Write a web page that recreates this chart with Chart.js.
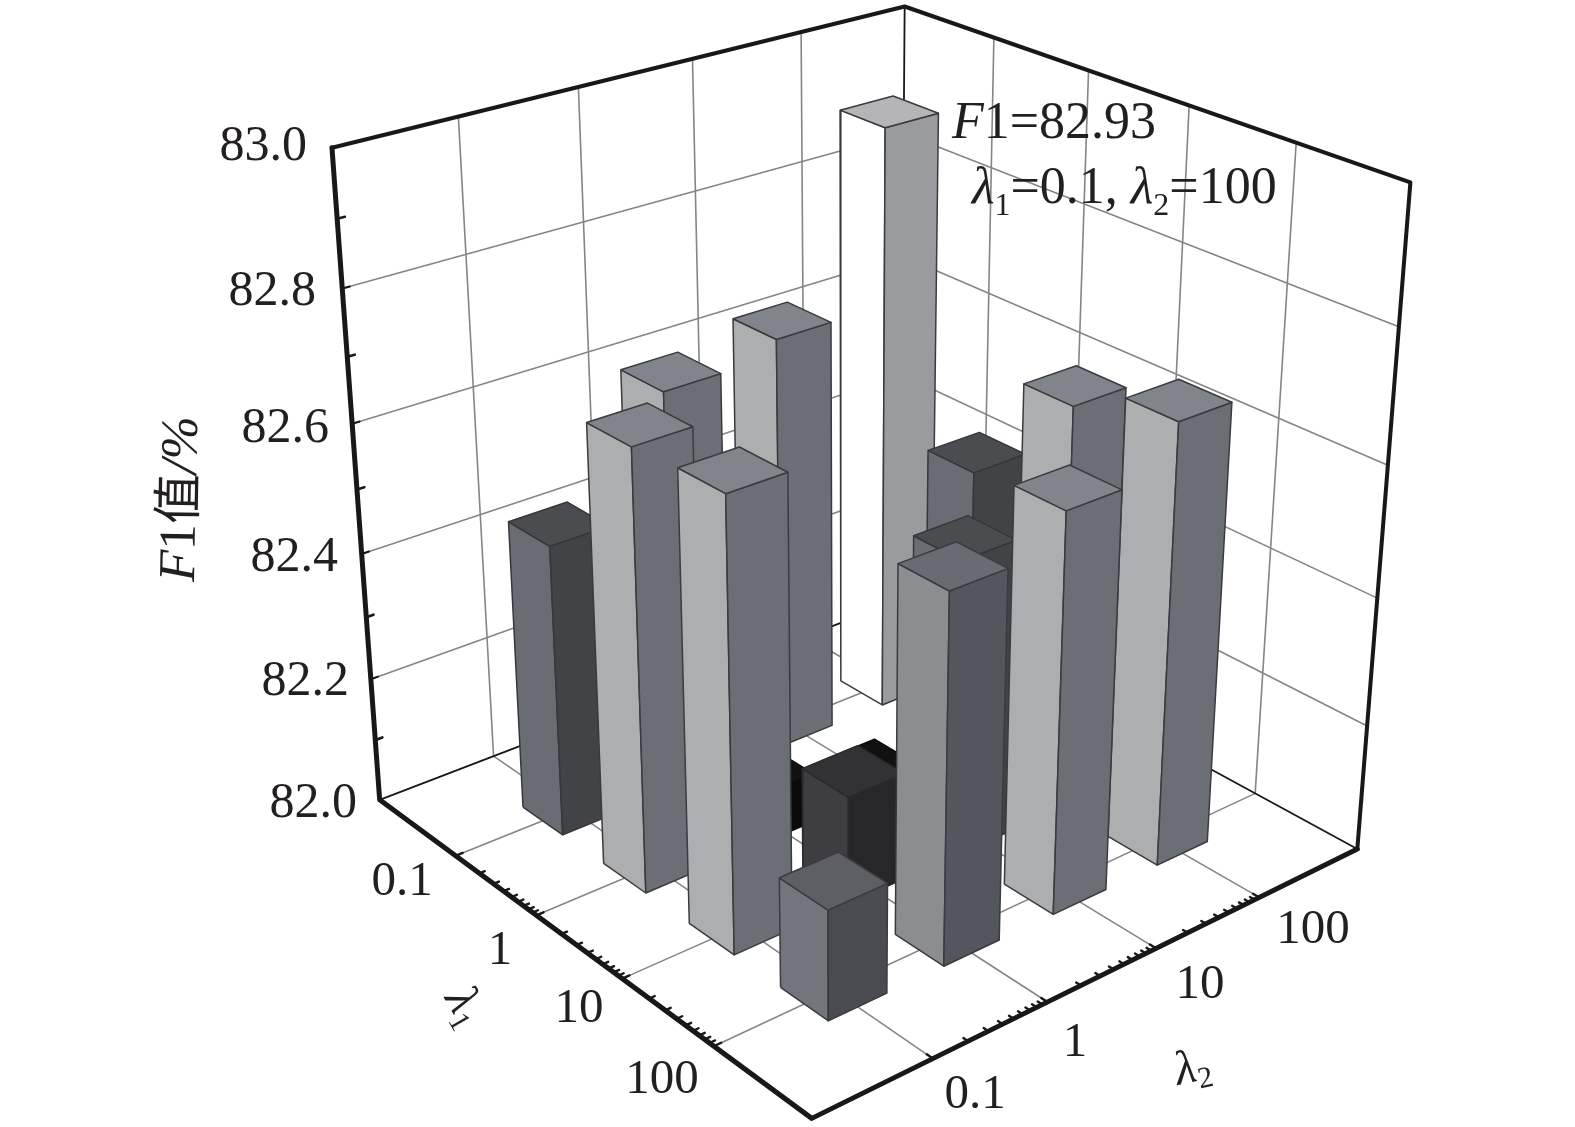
<!DOCTYPE html>
<html>
<head>
<meta charset="utf-8">
<title>F1</title>
<script src="https://cdn.jsdelivr.net/npm/chart.js@4/dist/chart.umd.js"></script>
<style>
    html, body { margin: 0; padding: 0; background: #fff; }
    canvas { display: block; }
</style>
</head>
<body>
<canvas id="chart" width="1575" height="1127"></canvas>
<script>
// Categories and tick labels
const lambda1Labels = ['0.1', '1', '10', '100'];
const lambda2Labels = ['0.1', '1', '10', '100'];
const f1TickLabels = ['82.0', '82.2', '82.4', '82.6', '82.8', '83.0'];

// F1 values, one list per lambda1, in lambda2 order
const f1AtLambda1_01 = [82.46, 82.635, 82.66, 82.93];
const f1AtLambda1_1 = [82.68, 82.08, 82.02, 82.465];
const f1AtLambda1_10 = [82.686, 82.17, 82.465, 82.637];
const f1AtLambda1_100 = [82.17, 82.563, 82.614, 82.683];
const f1Rows = [f1AtLambda1_01, f1AtLambda1_1, f1AtLambda1_10, f1AtLambda1_100];

// Bar shading: [left face, right face, top, edge]
const tones = {
    white: ['#ffffff', '#9a9b9f', '#b5b5b7', '#3a3b3f'],
    light: ['#adaeb0', '#6b6e75', '#81848a', '#3a3b3f'],
    mid: ['#8c8d91', '#53565c', '#686b71', '#3a3b3f'],
    slate: ['#72757c', '#4a4b50', '#5d5f65', '#3a3b3f'],
    deep: ['#696c72', '#424347', '#4b4c50', '#36373a'],
    dark: ['#3e3e42', '#272729', '#323234', '#2a2a2c'],
    black: ['#0d0d0d', '#0a0a0a', '#111111', '#0d0d0d']
};
const barTones = [
    ['deep', 'light', 'light', 'white'],
    ['light', 'black', 'black', 'deep'],
    ['light', 'dark', 'deep', 'light'],
    ['slate', 'mid', 'light', 'light']
];

const F1_MIN = 82;
const F1_MAX = 83;
const BAR_HALF = 0.05;
const TEXT_COLOR = '#231f20';
const SERIF = '"Liberation Serif", "Noto Sans CJK SC", serif';

// The box of the plot as seen in the picture: [u, v, h, px, py]
// u runs along lambda1, v along lambda2, h along F1
const boxFit = [
    [0, 0, 0, 377.5, 800], [1, 0, 0, 811.5, 1119], [1, 1, 0, 1357, 848], [0, 1, 0, 901, 601],
    [0, 0, 1, 331, 147.5], [0, 1, 1, 903.5, 6], [1, 1, 1, 1411, 183],
    [0, 0, 0.2, 371.7, 678], [0, 0, 0.4, 362.7, 554], [0, 0, 0.6, 353.3, 424], [0, 0, 0.8, 342.7, 289]
];

// Least squares fit of the camera matrix
function fitCamera(samples) {
    const n = 11;
    const A = Array.from({ length: n }, () => new Array(n + 1).fill(0));
    samples.forEach(([u, v, h, px, py]) => {
        const x = px / 1000, y = py / 1000;
        const rows = [
            [[u, v, h, 1, 0, 0, 0, 0, -x * u, -x * v, -x * h], x],
            [[0, 0, 0, 0, u, v, h, 1, -y * u, -y * v, -y * h], y]
        ];
        rows.forEach(([r, b]) => {
            for (let i = 0; i < n; i++) {
                for (let j = 0; j < n; j++) A[i][j] += r[i] * r[j];
                A[i][n] += r[i] * b;
            }
        });
    });
    for (let c = 0; c < n; c++) {
        let p = c;
        for (let r = c + 1; r < n; r++) if (Math.abs(A[r][c]) > Math.abs(A[p][c])) p = r;
        [A[c], A[p]] = [A[p], A[c]];
        for (let r = 0; r < n; r++) {
            if (r === c) continue;
            const f = A[r][c] / A[c][c];
            for (let k = c; k <= n; k++) A[r][k] -= f * A[c][k];
        }
    }
    return A.map((row, i) => row[n] / row[i]);
}

const cam = fitCamera(boxFit);

function project(u, v, h) {
    const w = cam[8] * u + cam[9] * v + cam[10] * h + 1;
    return {
        x: 1000 * (cam[0] * u + cam[1] * v + cam[2] * h + cam[3]) / w,
        y: 1000 * (cam[4] * u + cam[5] * v + cam[6] * h + cam[7]) / w
    };
}

const toH = value => (value - F1_MIN) / (F1_MAX - F1_MIN);

// Datasets are collected back to front, Chart.js paints the first dataset last
const layers = [];

function addLine(points, color, width) {
    layers.push({
        data: points.map(p => project(p[0], p[1], p[2])),
        showLine: true,
        fill: false,
        borderColor: color,
        borderWidth: width,
        pointRadius: 0,
        tension: 0,
        borderCapStyle: 'round',
        borderJoinStyle: 'round',
        clip: false
    });
}

function addFace(points, color, edge) {
    const closed = points.concat([points[0]]);
    layers.push({
        data: closed.map(p => project(p[0], p[1], p[2])),
        showLine: true,
        fill: 'shape',
        backgroundColor: color,
        borderColor: edge,
        borderWidth: 1.5,
        pointRadius: 0,
        tension: 0,
        borderJoinStyle: 'round',
        clip: false
    });
}

function addGrid() {
    const gridColor = '#858585';
    const stops = [0.2, 0.4, 0.6, 0.8];
    stops.forEach(s => {
        // floor
        addLine([[s, 0, 0], [s, 1, 0]], gridColor, 1.6);
        addLine([[0, s, 0], [1, s, 0]], gridColor, 1.6);
        // walls, verticals
        addLine([[0, s, 0], [0, s, 1]], gridColor, 1.6);
        addLine([[s, 1, 0], [s, 1, 1]], gridColor, 1.6);
        // walls, horizontals
        addLine([[0, 0, s], [0, 1, s], [1, 1, s]], gridColor, 1.6);
    });
}

function addFrame() {
    const ink = '#1a1718';
    addLine([[0, 1, 0], [0, 1, 1]], ink, 1.8);
    addLine([[0, 0, 0], [0, 1, 0], [1, 1, 0]], ink, 1.8);
    addLine([[0, 0, 1], [0, 1, 1], [1, 1, 1], [1, 1, 0]], ink, 4);
    addLine([[0, 0, 1], [0, 0, 0], [1, 0, 0], [1, 1, 0]], ink, 5);

    // log ticks on the two floor axes, one decade per cell
    const minors = [2, 3, 4, 5, 6, 7, 8, 9].map(k => Math.log10(k) * 0.2);
    [0.2, 0.4, 0.6].forEach(base => {
        minors.forEach(m => {
            addLine([[base + m, 0, 0], [base + m, 0.009, 0]], ink, 2.4);
            addLine([[1, base + m, 0], [0.991, base + m, 0]], ink, 2.4);
        });
    });
    [0.2, 0.4, 0.6, 0.8].forEach(s => {
        addLine([[s, 0, 0], [s, 0.012, 0]], ink, 2.4);
        addLine([[1, s, 0], [0.988, s, 0]], ink, 2.4);
    });
    // F1 axis ticks
    [0.1, 0.3, 0.5, 0.7, 0.9].forEach(h => addLine([[0, 0, h], [0, 0.012, h]], ink, 2.6));
    [0.2, 0.4, 0.6, 0.8].forEach(h => addLine([[0, 0, h], [0, 0.012, h]], ink, 2));
}

function addBars() {
    for (let i = 0; i < 4; i++) {
        for (let j = 3; j >= 0; j--) {
            const u = (i + 1) * 0.2, v = (j + 1) * 0.2;
            const h = toH(f1Rows[i][j]);
            const tone = tones[barTones[i][j]];
            const u0 = u - BAR_HALF, u1 = u + BAR_HALF, v0 = v - BAR_HALF, v1 = v + BAR_HALF;
            addFace([[u0, v0, 0], [u1, v0, 0], [u1, v0, h], [u0, v0, h]], tone[0], tone[3]);
            addFace([[u1, v0, 0], [u1, v1, 0], [u1, v1, h], [u1, v0, h]], tone[1], tone[3]);
            addFace([[u0, v0, h], [u1, v0, h], [u1, v1, h], [u0, v1, h]], tone[2], tone[3]);
        }
    }
}

addGrid();
addFrame();
addBars();

// Draws a row of text pieces, each { t, italic, size, dy }
function drawRuns(ctx, x, y, runs) {
    let cursor = x;
    runs.forEach(run => {
        const size = run.size || 52;
        ctx.font = (run.italic ? 'italic ' : '') + size + 'px ' + SERIF;
        ctx.fillText(run.t, cursor, y + (run.dy || 0));
        cursor += ctx.measureText(run.t).width;
    });
}

function drawTilted(ctx, x, y, angle, runs) {
    ctx.save();
    ctx.translate(x, y);
    ctx.rotate(angle * Math.PI / 180);
    drawRuns(ctx, 0, 0, runs);
    ctx.restore();
}

const textPlugin = {
    id: 'plotText',
    afterDraw(chart) {
        const ctx = chart.ctx;
        ctx.save();
        ctx.fillStyle = TEXT_COLOR;
        ctx.textBaseline = 'alphabetic';
        ctx.textAlign = 'left';

        // F1 tick labels, right edges follow the axis
        const f1Right = [357, 349, 338, 329, 316, 307];
        const f1Base = [817, 695, 571, 442, 305, 160];
        f1TickLabels.forEach((label, i) => {
            ctx.textAlign = 'right';
            ctx.font = '50px ' + SERIF;
            ctx.fillText(label, f1Right[i], f1Base[i]);
        });
        ctx.textAlign = 'center';
        ctx.font = '49px ' + SERIF;
        const l1Pos = [[402, 895], [500, 964], [579, 1022], [662, 1093]];
        lambda1Labels.forEach((label, i) => ctx.fillText(label, l1Pos[i][0], l1Pos[i][1]));
        const l2Pos = [[975, 1108], [1075, 1056], [1200, 998], [1313, 943]];
        lambda2Labels.forEach((label, i) => ctx.fillText(label, l2Pos[i][0], l2Pos[i][1]));
        ctx.textAlign = 'left';

        // Axis titles
        drawTilted(ctx, 194, 582, -89, [
            { t: 'F', italic: true, size: 52 }, { t: '1', size: 52 },
            { t: '值', size: 50 }, { t: '/%', italic: true, size: 52 }
        ]);
        drawTilted(ctx, 444, 998, 60, [
            { t: 'λ', italic: true, size: 48 }, { t: '1', size: 30, dy: 8 }
        ]);
        drawTilted(ctx, 1178, 1085, -12, [
            { t: 'λ', italic: true, size: 48 }, { t: '2', size: 30, dy: 8 }
        ]);

        // Best point note
        drawRuns(ctx, 952, 138, [
            { t: 'F', italic: true }, { t: '1=82.93' }
        ]);
        drawRuns(ctx, 972, 203, [
            { t: 'λ', italic: true }, { t: '1', size: 32, dy: 12 }, { t: '=0.1, ' },
            { t: 'λ', italic: true }, { t: '2', size: 32, dy: 12 }, { t: '=100' }
        ]);
        ctx.restore();
    }
};

new Chart(document.getElementById('chart'), {
    type: 'scatter',
    data: { datasets: layers.slice().reverse() },
    options: {
        responsive: false,
        animation: false,
        events: [],
        layout: { padding: 0 },
        plugins: { legend: { display: false }, tooltip: { enabled: false } },
        scales: {
            x: { type: 'linear', display: false, min: 0, max: 1575 },
            y: { type: 'linear', display: false, min: 0, max: 1127, reverse: true }
        }
    },
    plugins: [textPlugin]
});
</script>
</body>
</html>
